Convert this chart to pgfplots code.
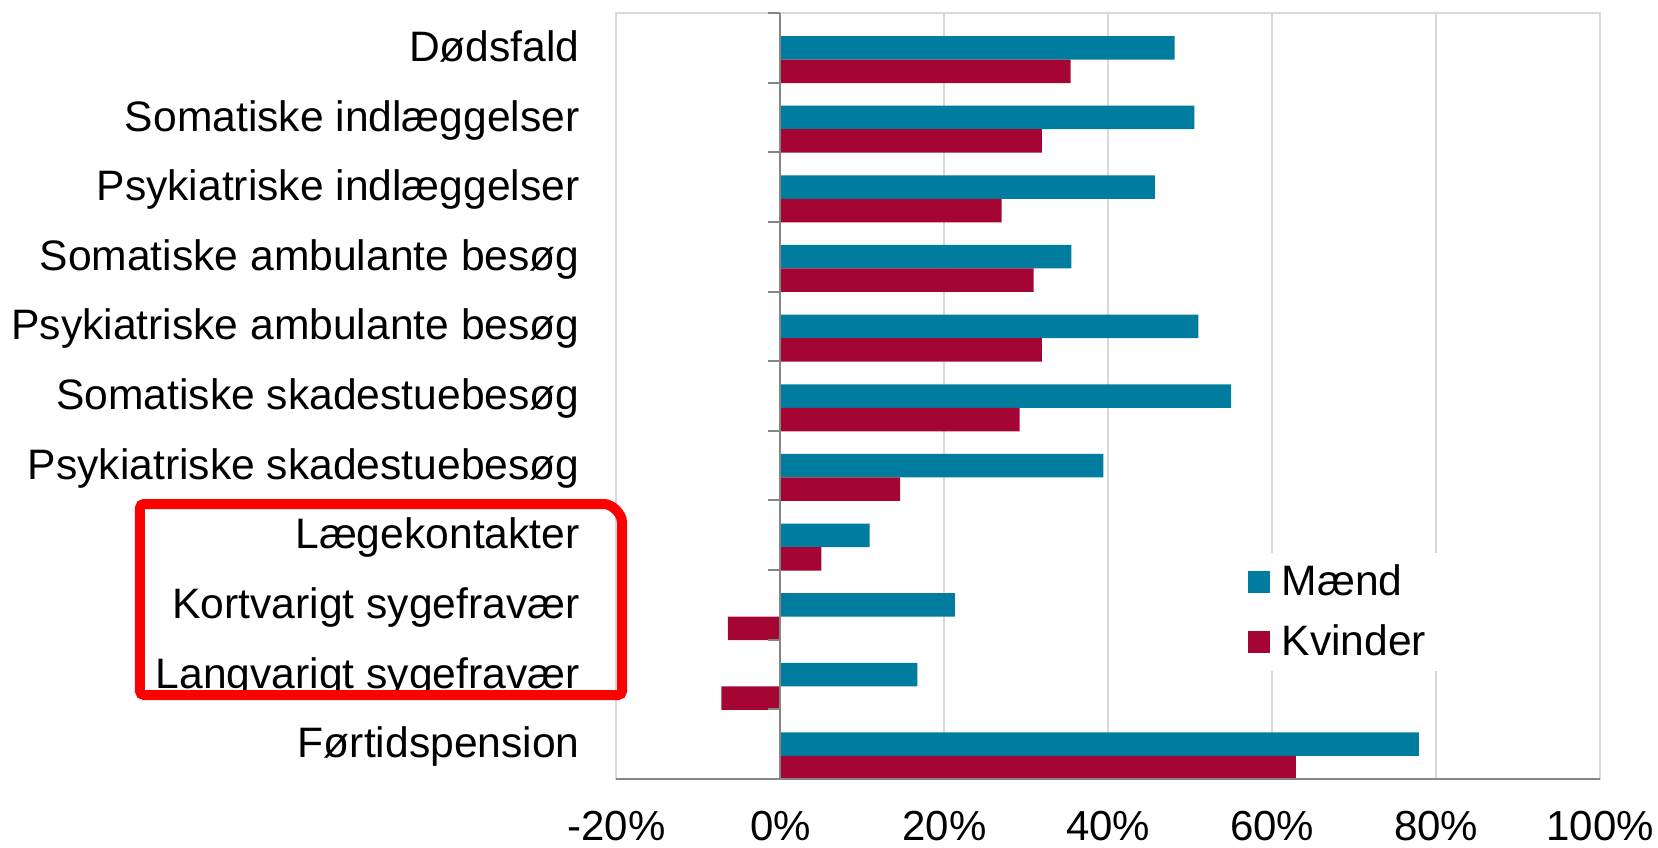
\documentclass[border=0pt]{standalone}
\usepackage{fontspec}
\setmainfont{Liberation Sans}
\usepackage{pgfplots}
\pgfplotsset{compat=1.18}
\definecolor{maend}{HTML}{007C9F}
\definecolor{kvinder}{HTML}{A50533}
\definecolor{gridgray}{HTML}{D9D9D9}
\definecolor{axisgray}{HTML}{868686}
\pgfplotsset{xbar legend/.style={legend image code/.code={\fill[##1] (0pt,-5.5pt) rectangle (11pt,5.5pt); \path (15pt,0pt);}}}
\begin{document}
\begin{tikzpicture}
\useasboundingbox (-308.25pt,-34pt) rectangle (520.75pt,389.5pt);
\begin{axis}[
 at={(0,0)}, anchor=south west,
 scale only axis, width=491.75pt, height=383pt,
 xbar, bar width=11.75pt,
 xmin=-20, xmax=100, ymin=-0.5, ymax=10.5,
 xtick={-20,0,20,40,60,80,100},
 xticklabels={-20\%,0\%,20\%,40\%,60\%,80\%,100\%},
 ytick={0,...,10},
 yticklabels={Førtidspension,Langvarigt sygefravær,Kortvarigt sygefravær,Lægekontakter,Psykiatriske skadestuebesøg,Somatiske skadestuebesøg,Psykiatriske ambulante besøg,Somatiske ambulante besøg,Psykiatriske indlæggelser,Somatiske indlæggelser,Dødsfald},
 major tick length=0pt,
 xmajorgrids, grid style={gridgray, line width=1pt},
 axis line style={gridgray, line width=1pt},
 tick label style={font=\fontsize{21}{25}\selectfont},
 xticklabel style={anchor=base, yshift=-30.8pt},
 yticklabel style={anchor=base east, inner sep=0pt, xshift=-18.25pt, yshift=-6.8pt, font=\fontsize{21.3}{25}\selectfont},
 legend style={draw=none, fill=white, at={(axis description cs:0.6333,0.2182)}, anchor=west, inner xsep=4pt, inner ysep=4pt, font=\fontsize{21.3}{25}\selectfont, row sep=9pt},
 legend cell align=left,
 clip=false,
]
\addplot[fill=maend, draw=none, bar shift=0pt] coordinates {(48.1,10) (50.5,9) (45.7,8) (35.5,7) (51.0,6) (55.0,5) (39.4,4) (10.9,3) (21.3,2) (16.7,1) (77.9,0)};
\addplot[fill=kvinder, draw=none, bar shift=-11.75pt] coordinates {(35.4,10) (31.9,9) (27.0,8) (30.9,7) (31.9,6) (29.2,5) (14.6,4) (5.0,3) (-6.4,2) (-7.2,1) (62.9,0)};
\legend{Mænd,Kvinder}
\draw[axisgray, line width=1.3pt] (axis cs:-20,-0.5) -- (axis cs:100,-0.5);
\draw[axisgray, line width=1pt] (axis cs:0,-0.5) -- (axis cs:0,10.5);
\pgfplotsinvokeforeach{-0.5,0.5,1.5,2.5,3.5,4.5,5.5,6.5,7.5,8.5,9.5,10.5}{
  \draw[axisgray, line width=1pt] (axis cs:0,#1) -- ([xshift=-6.3pt]axis cs:0,#1);
}
\end{axis}
\draw[red, line width=5pt, rounded corners=2pt] (-238.25pt,42pt) -- (-238.25pt,137.5pt) -- (-8.25pt,137.5pt) arc[start angle=90, end angle=0, radius=11pt] -- (2.75pt,42pt) -- cycle;
\end{tikzpicture}
\end{document}
